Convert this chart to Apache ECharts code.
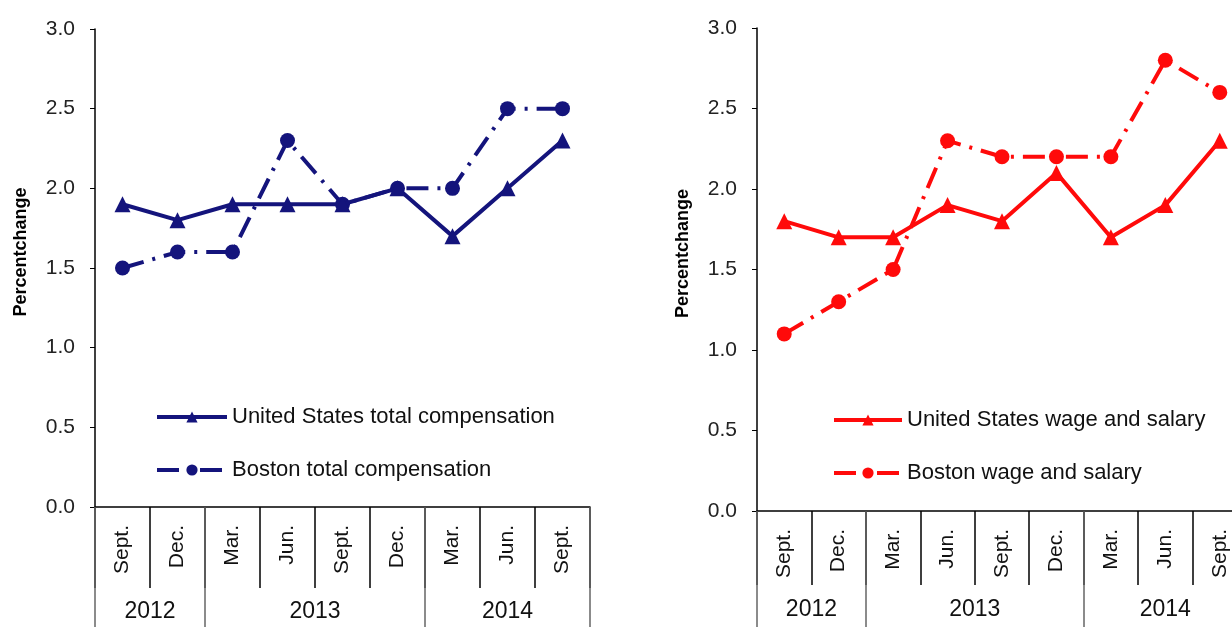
<!DOCTYPE html>
<html><head><meta charset="utf-8">
<script src="https://cdn.jsdelivr.net/npm/echarts@6/dist/echarts.min.js"></script>
<style>html,body{margin:0;padding:0;background:#fff;overflow:hidden}#c{width:1260px;height:627px}</style>
</head><body><div id="c"></div>
<script>
const months = ['Sept.','Dec.','Mar.','Jun.','Sept.','Dec.','Mar.','Jun.','Sept.'];
const years = ['2012','2013','2014'];
const yearSpans = [2,4,3];
const yTicks = [0,0.5,1.0,1.5,2.0,2.5,3.0];
const usTotal = [1.9,1.8,1.9,1.9,1.9,2.0,1.7,2.0,2.3];
const bostonTotal = [1.5,1.6,1.6,2.3,1.9,2.0,2.0,2.5,2.5];
const usWage = [1.8,1.7,1.7,1.9,1.8,2.1,1.7,1.9,2.3];
const bostonWage = [1.1,1.3,1.5,2.3,2.2,2.2,2.2,2.8,2.6];

const FONT = 'Liberation Sans, Arial, sans-serif';
const yearBounds = [0]; const yearCenters = [];
yearSpans.forEach(s => { const a = yearBounds[yearBounds.length-1]; yearCenters.push(a + s/2); yearBounds.push(a + s); });

function gridAxes(gi, tickLen, yearMargin) {
  return [
    { type:'category', gridIndex:gi, data:months, boundaryGap:true,
      axisLine:{lineStyle:{color:'#000',width:1.5}},
      axisTick:{show:true,interval:0,length:tickLen,lineStyle:{color:'#000',width:1.5}},
      axisLabel:{interval:0,rotate:90,fontSize:21,color:'#111',fontFamily:FONT,margin:18} },
    { type:'value', gridIndex:gi, position:'bottom', min:0, max:months.length,
      axisLine:{show:false}, splitLine:{show:false},
      axisTick:{show:true,customValues:yearBounds,length:130,lineStyle:{color:'#666',width:1.5}},
      axisLabel:{customValues:yearCenters,margin:yearMargin,fontSize:23,color:'#111',fontFamily:FONT,
        formatter:v=>{const i=yearCenters.indexOf(v);return i>=0?years[i]:'';}} }
  ];
}
function yAx(gi, gap) {
  return { type:'value', gridIndex:gi, min:yTicks[0], max:yTicks[yTicks.length-1], interval:0.5,
    name:'Percentchange', nameLocation:'middle', nameGap:gap,
    nameTextStyle:{fontWeight:'bold',fontSize:18,color:'#000',fontFamily:FONT,padding:[0,0,0,32]},
    axisLine:{show:true,lineStyle:{color:'#000',width:1.5}},
    axisTick:{show:true,length:5,lineStyle:{color:'#000'}},
    splitLine:{show:false},
    axisLabel:{fontSize:21,color:'#222',fontFamily:FONT,margin:20,formatter:v=>v.toFixed(1)} };
}
const navy = '#14147c', red = '#ff0a0a';
const dash = [22,9,3,9];
function ser(name, data, color, symbol, size, gi, dashed) {
  return { name, type:'line', data, xAxisIndex:gi*2, yAxisIndex:gi, symbol, symbolSize:size,
    itemStyle:{color}, lineStyle:{color,width:4,type: dashed?dash:'solid'}, z: dashed?3:4 };
}
const legendBase = {padding:0,orient:'vertical',itemHeight:14,itemGap:31,
  lineStyle:{width:4}, textStyle:{fontSize:22,lineHeight:22,color:'#111',fontFamily:FONT}};
const option = {
  animation:false,
  grid:[{left:95,top:29,width:495,height:478},{left:757,top:28,width:490,height:483}],
  xAxis:[...gridAxes(0,81,93), ...gridAxes(1,74,87)],
  yAxis:[yAx(0,65), yAx(1,65)],
  legend:[
    Object.assign({left:155,top:406,itemWidth:70,data:['United States total compensation','Boston total compensation']}, legendBase),
    Object.assign({left:832,top:409,itemWidth:68,data:['United States wage and salary','Boston wage and salary']}, legendBase)
  ],
  series:[
    ser('United States total compensation', usTotal, navy, 'triangle', 16, 0, false),
    ser('Boston total compensation', bostonTotal, navy, 'circle', 15, 0, true),
    ser('United States wage and salary', usWage, red, 'triangle', 16, 1, false),
    ser('Boston wage and salary', bostonWage, red, 'circle', 15, 1, true)
  ]
};
echarts.init(document.getElementById('c')).setOption(option);
</script></body></html>
